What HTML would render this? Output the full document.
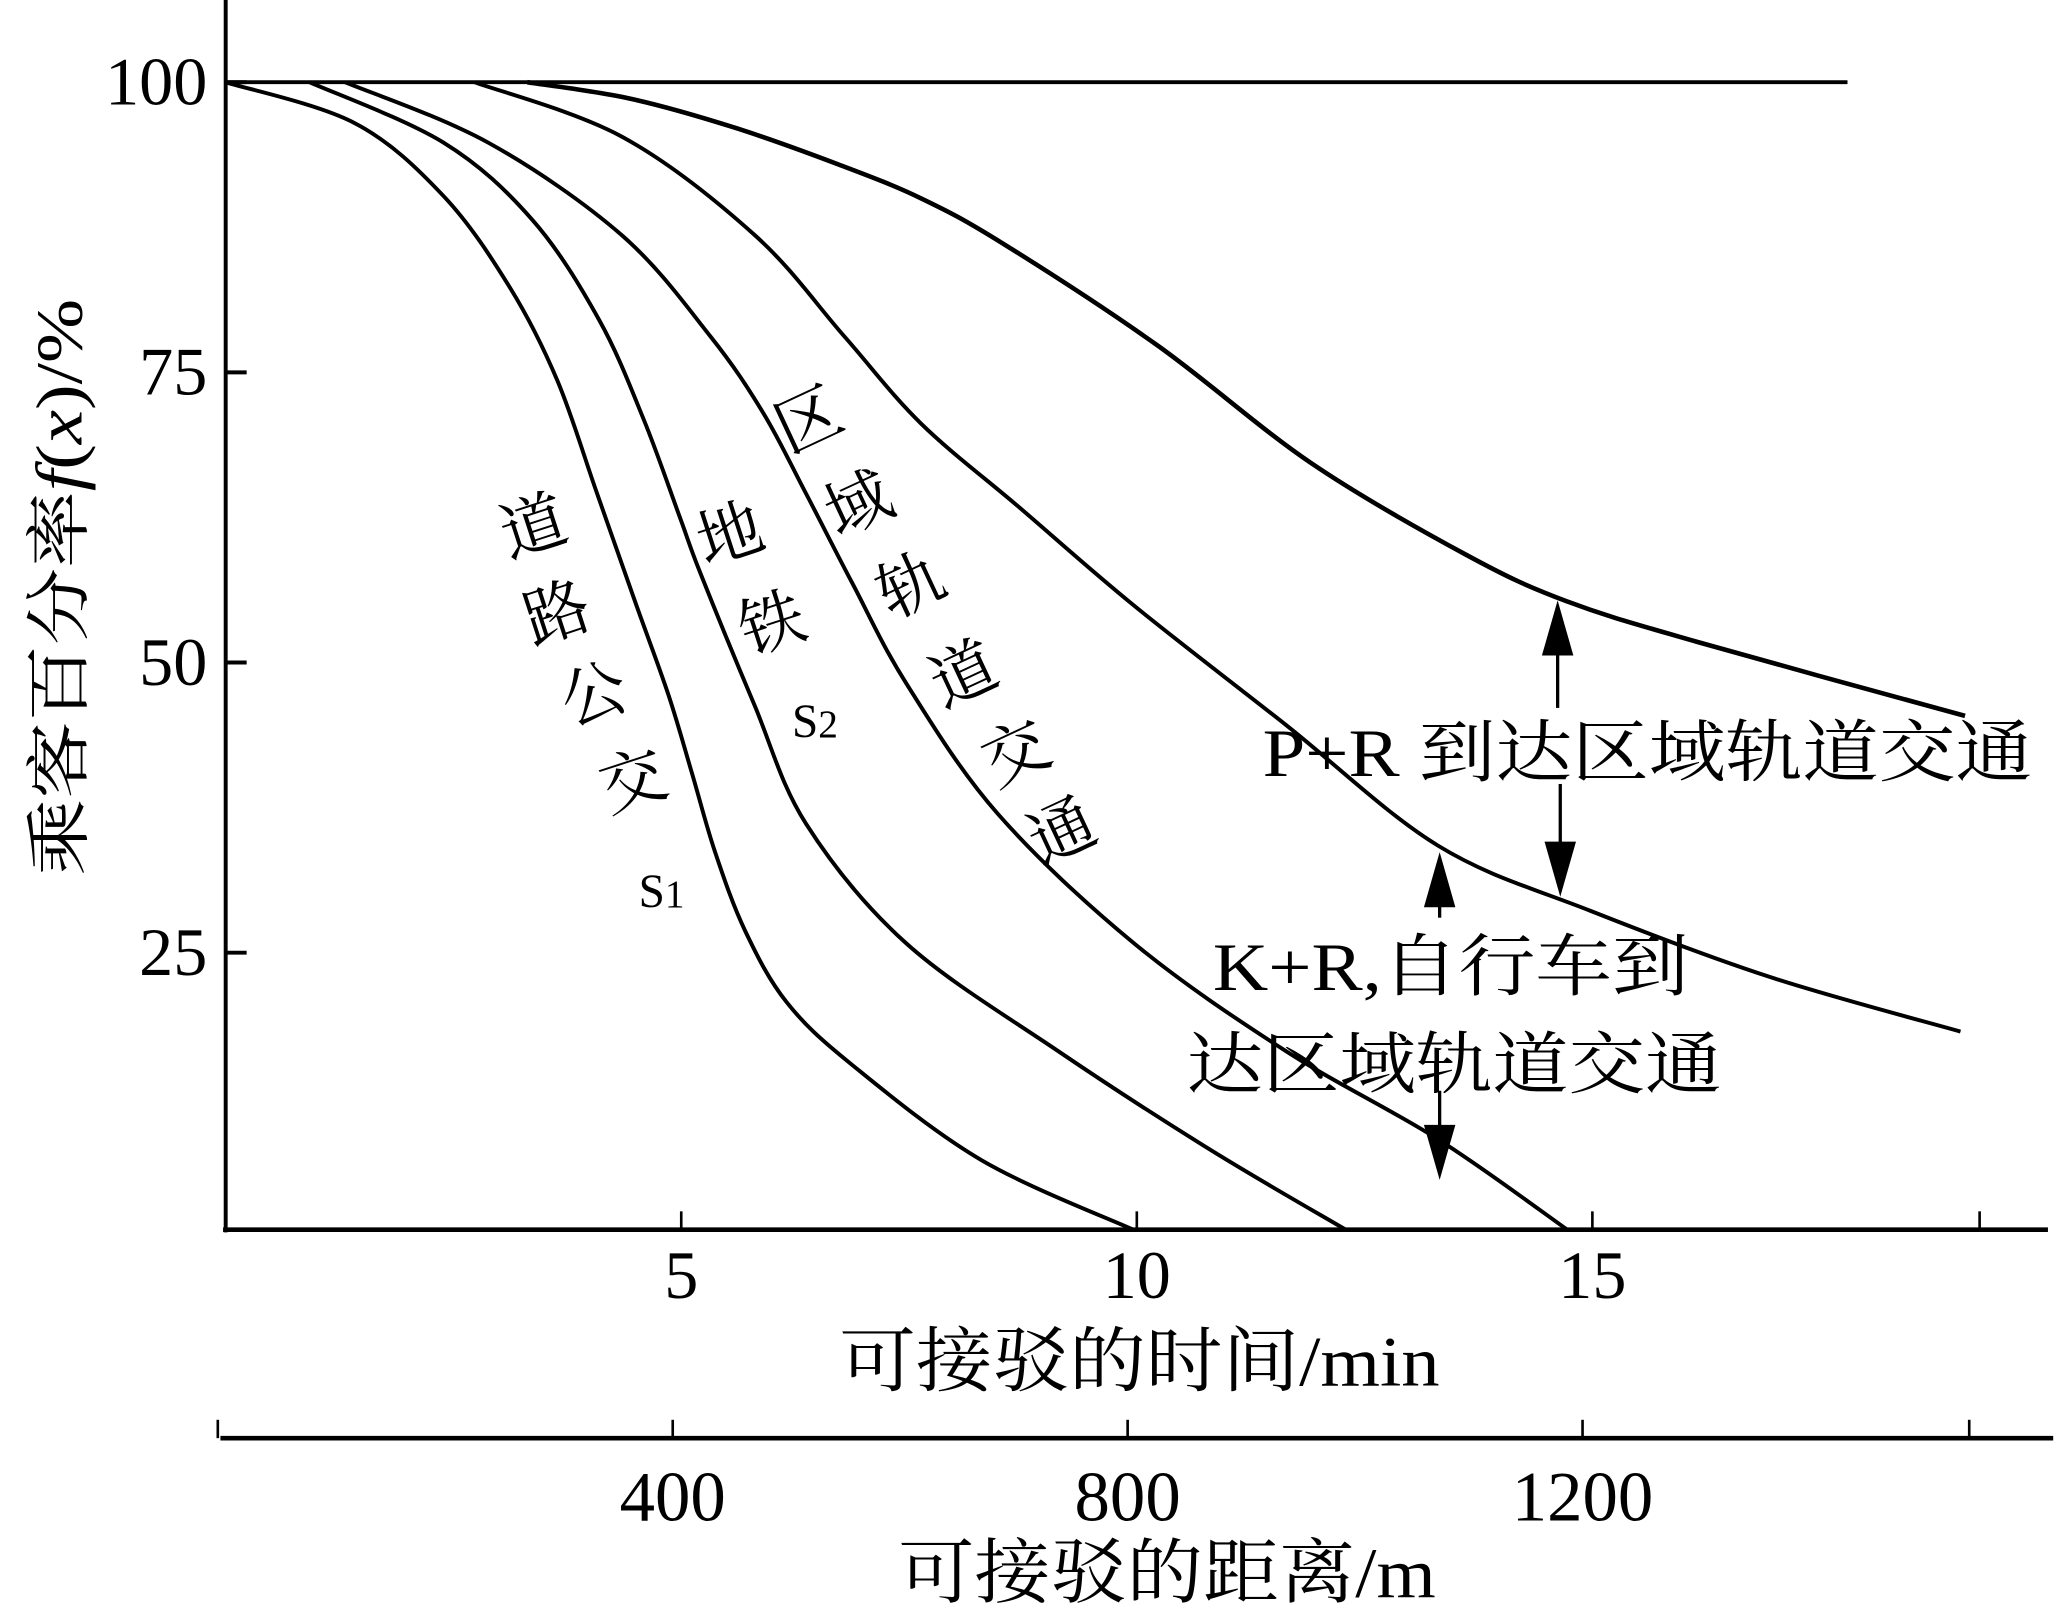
<!DOCTYPE html>
<html><head><meta charset="utf-8"><style>
html,body{margin:0;padding:0;background:#fff;}
svg{display:block;}
text{font-family:"Liberation Serif","Noto Serif CJK SC","Noto Sans CJK SC",serif;fill:#000;}
</style></head><body>
<svg id="chart" width="2056" height="1623" viewBox="0 0 1568 1238" xmlns="http://www.w3.org/2000/svg">
<g id="axes"></g>
<g id="curves"></g>
<g id="labels">
<text transform="translate(62,448) rotate(-90)" text-anchor="middle" font-size="50" textLength="440" lengthAdjust="spacingAndGlyphs">乘客百分率<tspan font-style="italic">f</tspan>(<tspan font-style="italic">x</tspan>)/%</text>
<text x="640" y="1057" font-size="54" textLength="458" lengthAdjust="spacingAndGlyphs">可接驳的时间/min</text>
<text x="685" y="1218" font-size="54" textLength="410" lengthAdjust="spacingAndGlyphs">可接驳的距离/m</text>
<g font-size="50">
<text transform="translate(412,418) rotate(-18)" text-anchor="middle">道</text>
<text transform="translate(430,484) rotate(-18)" text-anchor="middle">路</text>
<text transform="translate(458,546) rotate(-18)" text-anchor="middle">公</text>
<text transform="translate(488,612) rotate(-18)" text-anchor="middle">交</text>
<text x="487" y="692" font-size="36">S<tspan font-size="30">1</tspan></text>
</g>
<g font-size="50">
<text transform="translate(562,424) rotate(-18)" text-anchor="middle">地</text>
<text transform="translate(594,492) rotate(-18)" text-anchor="middle">铁</text>
<text x="604" y="562" font-size="36">S<tspan font-size="30">2</tspan></text>
</g>
<g font-size="50">
<text transform="translate(624,336) rotate(-25)" text-anchor="middle">区</text>
<text transform="translate(662,400) rotate(-25)" text-anchor="middle">域</text>
<text transform="translate(702,462) rotate(-25)" text-anchor="middle">轨</text>
<text transform="translate(742,530) rotate(-25)" text-anchor="middle">道</text>
<text transform="translate(782,590) rotate(-25)" text-anchor="middle">交</text>
<text transform="translate(817,650) rotate(-25)" text-anchor="middle">通</text>
</g>
<text x="963" y="592" font-size="52" textLength="587" lengthAdjust="spacingAndGlyphs">P+R 到达区域轨道交通</text>
<text x="925" y="755" font-size="52" textLength="363" lengthAdjust="spacingAndGlyphs">K+R,自行车到</text>
<text x="905" y="830" font-size="52" textLength="408" lengthAdjust="spacingAndGlyphs">达区域轨道交通</text>
</g>
</svg>
<script>
const NS='http://www.w3.org/2000/svg';
const yTicks=[100,75,50,25];
const xTicks=[5,10,15,19.25];
const xTickLabels=['5','10','15',''];
const dTicks=[0,400,800,1200,1540];
const dTickLabels=['','400','800','1200',''];
const busT=[0,1.41,2.39,3.12,3.64,4.07,4.50,4.86,5.12,5.37,5.70,6.16,6.88,8.30,9.97];
const busV=[100,96.5,90.2,82.3,74.3,64.7,55.1,47.2,40.4,33.7,26.9,20.7,15.3,7.1,1.1];
const metroT=[0.92,2.39,3.37,4.10,4.59,4.99,5.21,5.80,6.37,7.47,9.14,10.81,12.30];
const metroV=[100,94.8,88.1,79.5,70.9,62.4,57.7,46.4,36.1,25.8,16.5,8.0,1.1];
const railT=[1.31,2.88,4.35,5.32,5.90,6.36,6.88,7.47,8.47,9.97,11.64,13.31,14.73];
const railV=[100,94.8,86.8,78.1,71.5,64.7,56.8,48.2,37.0,25.8,16.5,8.9,1.1];
const krT=[2.73,4.35,5.81,6.79,7.63,8.72,9.97,11.64,13.31,14.98,16.95,19.04];
const krV=[100,95.3,86.8,78.1,70.6,63.3,54.9,44.6,34.2,28.6,22.9,18.2];
const prT=[3.31,4.43,5.58,6.73,7.63,8.53,10.23,11.91,13.61,14.71,16.14,19.09];
const prV=[100,98.6,96.1,92.9,90.0,86.1,77.3,67.2,59.3,55.3,51.8,45.4];
const topLineT=[0,17.8];
const topLineV=[100,100];

const xS=t=>172+t*69.5;
const yS=v=>948-v*8.853;
const dS=d=>166+d*0.8675;

const axes=document.getElementById('axes');
const curves=document.getElementById('curves');
function mk(tag,attrs,parent){const e=document.createElementNS(NS,tag);for(const k in attrs)e.setAttribute(k,attrs[k]);parent.appendChild(e);return e;}

let e;
e=mk('line',{x1:172,y1:0,x2:172,y2:940,stroke:'#000','stroke-width':3},axes);


e=mk('line',{x1:170,y1:938,x2:1562,y2:938,stroke:'#000','stroke-width':3.5},axes);


yTicks.forEach(v=>{
  const t=mk('line',{x1:172,y1:yS(v),x2:188,y2:yS(v),stroke:'#000','stroke-width':3},axes);
  
  
  const l=mk('text',{x:158,y:yS(v)+17,'text-anchor':'end','font-size':52},axes);
  l.textContent=v;
  
  
});
xTicks.forEach((t,i)=>{
  const k=mk('line',{x1:xS(t),y1:938,x2:xS(t),y2:924,stroke:'#000','stroke-width':2},axes);
  
  
  const l=mk('text',{x:xS(t),y:990,'text-anchor':'middle','font-size':52},axes);
  l.textContent=xTickLabels[i];
  
  
});
e=mk('line',{x1:168,y1:1097,x2:1566,y2:1097,stroke:'#000','stroke-width':3.5},axes);


dTicks.forEach((d,i)=>{
  const k=mk('line',{x1:dS(d),y1:1097,x2:dS(d),y2:1083,stroke:'#000','stroke-width':2},axes);
  
  
  const l=mk('text',{x:dS(d),y:1160,'text-anchor':'middle','font-size':54},axes);
  l.textContent=dTickLabels[i];
  
  
});

function smooth(T,V){
  const p=T.map((t,i)=>[xS(t),yS(V[i])]);
  let d='M'+p[0][0]+','+p[0][1];
  for(let i=0;i<p.length-1;i++){
    const p0=p[i-1]||p[i],p1=p[i],p2=p[i+1],p3=p[i+2]||p2;
    const c1=[p1[0]+(p2[0]-p0[0])/6,p1[1]+(p2[1]-p0[1])/6];
    const c2=[p2[0]-(p3[0]-p1[0])/6,p2[1]-(p3[1]-p1[1])/6];
    d+=` C${c1[0]},${c1[1]} ${c2[0]},${c2[1]} ${p2[0]},${p2[1]}`;
  }
  return d;
}
e=mk('path',{d:smooth(topLineT,topLineV),fill:'none',stroke:'#000','stroke-width':3},curves);


e=mk('path',{d:smooth(busT,busV),fill:'none',stroke:'#000','stroke-width':3},curves);


e=mk('path',{d:smooth(metroT,metroV),fill:'none',stroke:'#000','stroke-width':3},curves);


e=mk('path',{d:smooth(railT,railV),fill:'none',stroke:'#000','stroke-width':3},curves);


e=mk('path',{d:smooth(krT,krV),fill:'none',stroke:'#000','stroke-width':3},curves);


e=mk('path',{d:smooth(prT,prV),fill:'none',stroke:'#000','stroke-width':3.5},curves);



function arrow(x,y1,y2,name){
  const g=mk('g',{},curves);
  
  
  const dir=y2>y1?1:-1;
  mk('line',{x1:x,y1:y1,x2:x,y2:y2-dir*40,stroke:'#000','stroke-width':2.5},g);
  mk('polygon',{points:`${x-12},${y2-dir*42} ${x+12},${y2-dir*42} ${x},${y2}`,fill:'#000'},g);
}
arrow(1188,540,458,'pr-arrow-up');
arrow(1190,598,684,'pr-arrow-down');
arrow(1098,700,650,'kr-arrow-up');
arrow(1098,832,900,'kr-arrow-down');
</script>
</body></html>
